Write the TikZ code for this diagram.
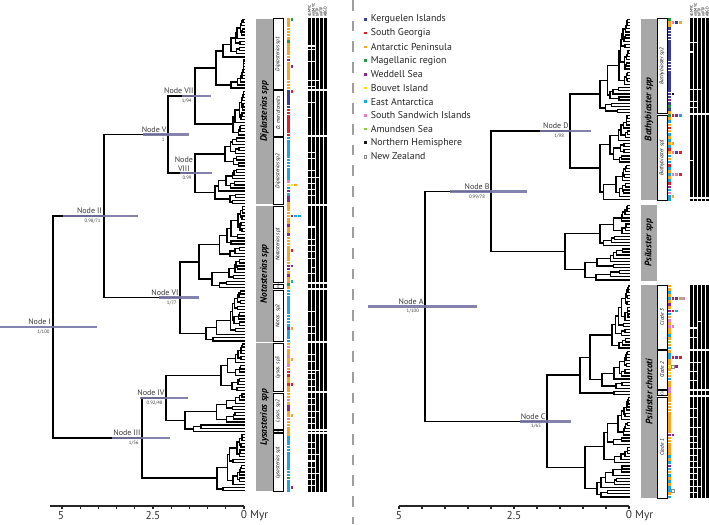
\documentclass[tikz,border=0pt]{standalone}
\usepackage{fontspec}
\setmainfont{PT Sans}
\usetikzlibrary{calc}
\definecolor{colK}{RGB}{58,60,150}
\definecolor{colR}{RGB}{226,30,40}
\definecolor{colO}{RGB}{247,165,35}
\definecolor{colG}{RGB}{40,150,70}
\definecolor{colP}{RGB}{140,40,140}
\definecolor{colY}{RGB}{250,222,40}
\definecolor{colC}{RGB}{30,165,225}
\definecolor{colS}{RGB}{230,130,185}
\definecolor{colA}{RGB}{150,200,60}
\definecolor{colN}{RGB}{20,20,20}
\definecolor{barcol}{RGB}{118,118,165}
\definecolor{boxgray}{RGB}{168,168,168}

\tikzset{
 phylo/.style={line width=1.15pt, line cap=rect, line join=miter},
 twig/.style={line width=1.0pt, line cap=rect},
 ebar/.style={line width=1.8pt, draw=barcol, opacity=0.9},
 nlab/.style={font=\fontsize{6}{6.5}\selectfont, text=black!78, inner sep=0.4pt},
 slab/.style={font=\fontsize{3.6}{4}\selectfont, text=black!75, inner sep=0.4pt},
 glab/.style={font=\fontsize{7}{8}\selectfont\bfseries\itshape, rotate=90, inner sep=0},
 sublab/.style={font=\fontsize{4}{4.5}\selectfont\itshape, rotate=90, inner sep=0},
 sbox/.style={draw=black, fill=white, line width=0.35pt},
 leg/.style={font=\fontsize{7.4}{8}\selectfont, text=black!85, anchor=west, inner sep=0},
 axisl/.style={font=\fontsize{8.5}{9}\selectfont, text=black!80, inner sep=0},
 axline/.style={line width=0.9pt, black!85},
 hdr/.style={font=\fontsize{3}{3.5}\selectfont, rotate=90, anchor=west, inner sep=0},
 sqK/.style={fill=colK}, sqR/.style={fill=colR}, sqO/.style={fill=colO},
 sqG/.style={fill=colG}, sqP/.style={fill=colP}, sqY/.style={fill=colY},
 sqC/.style={fill=colC}, sqS/.style={fill=colS}, sqA/.style={fill=colA},
 sqN/.style={fill=colN}, sqZ/.style={fill=white, draw=black!45, line width=0.25pt},
}

% recursive generator of the small ladderized subtrees
\newcommand\TRclade[3]{%
 \begingroup
 \edef\TRx{#1}\edef\TRi{#2}\edef\TRj{#3}%
 \pgfmathtruncatemacro\TRn{\TRj-\TRi+1}%
 \pgfmathsetmacro\TRr{0.55+0.4*rnd}%
 \pgfmathtruncatemacro\TRm{\TRi+max(0,min(\TRn-2,round(\TRn*\TRr)-1))}%
 \pgfmathtruncatemacro\TRmm{\TRm+1}%
 \ifnum\TRm=\TRi\relax
   \pgfmathsetmacro\TRya{\TRyz+\TRdy*\TRi}\let\TRxa\TRtip
 \else
   \pgfmathsetmacro\TRxa{\TRx+(\TRtip-\TRx)*(0.1+0.45*rnd)}%
   \TRclade{\TRxa}{\TRi}{\TRm}\let\TRya\TRret
 \fi
 \ifnum\TRmm=\TRj\relax
   \pgfmathsetmacro\TRyb{\TRyz+\TRdy*\TRj}\let\TRxb\TRtip
 \else
   \pgfmathsetmacro\TRxb{\TRx+(\TRtip-\TRx)*(0.1+0.45*rnd)}%
   \TRclade{\TRxb}{\TRmm}{\TRj}\let\TRyb\TRret
 \fi
 \draw[twig] (\TRxa,\TRya) -- (\TRx,\TRya) -- (\TRx,\TRyb) -- (\TRxb,\TRyb);
 \pgfmathsetmacro\TRyc{(\TRya+\TRyb)/2}%
 \xdef\TRret{\TRyc}%
 \endgroup}

\newcommand\EB[3]{\draw[ebar] (#1) ++(#2,0) -- ++(#3,0);}
\newcommand\GBox[5]{%
 \fill[boxgray] (#1,{\TRyz+\TRdy*(#3-0.5)+0.7}) rectangle (#2,{\TRyz+\TRdy*(#4+0.5)-0.7});
 \node[glab] at ({(#1+#2)/2},{\TRyz+\TRdy*(#3+#4)/2}) {#5};}
\newcommand\SBox[5]{%
 \draw[sbox] (#1,{\TRyz+\TRdy*(#3-0.5)+0.7}) rectangle (#2,{\TRyz+\TRdy*(#4+0.5)-0.7});
 \node[sublab] at ({(#1+#2)/2},{\TRyz+\TRdy*(#3+#4)/2}) {#5};}
\newcommand\Bars[3]{% barx, i, j
 \foreach \cc in {0,...,4}
   \fill[black] ({#1+3.9*\cc},{\TRyz+\TRdy*(#2-0.5)}) rectangle ++(3.0,{\TRdy*(#3-#2+1)});}
\newcommand\sq{2.7}

\begin{document}
\begin{tikzpicture}[x=0.75pt,y=-0.75pt]
\useasboundingbox (0,0) rectangle (709,524);
\fill[white] (0,0) rectangle (709,524);

% divider
\draw[line width=1.5pt, black!38, dash pattern=on 8pt off 7.5pt] (353,0) -- (353,524);

%================ LEFT PANEL ================
\def\TRtip{244}\def\TRyz{19.5}\def\TRdy{3.12}
\pgfmathsetseed{3}
\TRclade{216}{0}{22}\let\yA\TRret \coordinate (c1) at (216,\yA);
\TRclade{233}{23}{37}\let\yB\TRret \coordinate (c2) at (233,\yB);
\TRclade{225}{38}{47}\let\yC\TRret \coordinate (c3) at (225,\yC);
\TRclade{215}{48}{59}\let\yD\TRret \coordinate (c4) at (215,\yD);
\TRclade{199}{60}{86}\let\yE\TRret \coordinate (c5) at (199,\yE);
\TRclade{206}{87}{103}\let\yF\TRret \coordinate (c6) at (206,\yF);
\TRclade{221}{104}{119}\let\yG\TRret \coordinate (c7) at (221,\yG);
\TRclade{185}{120}{132}\let\yH\TRret \coordinate (c8) at (185,\yH);
\TRclade{217}{133}{151}\let\yI\TRret \coordinate (c9) at (217,\yI);
\pgfmathsetmacro\ySeven{(\yA+\yB)/2}
\pgfmathsetmacro\yEight{(\yC+\yD)/2}
\pgfmathsetmacro\yFive{(\ySeven+\yEight)/2}
\pgfmathsetmacro\ySix{(\yE+\yF)/2}
\pgfmathsetmacro\yTwo{(\yFive+\ySix)/2}
\pgfmathsetmacro\yFour{(\yG+\yH)/2}
\pgfmathsetmacro\yThree{(\yFour+\yI)/2}
\pgfmathsetmacro\yOne{(\yTwo+\yThree)/2}
\coordinate (n7) at (195,\ySeven);
\coordinate (n8) at (195,\yEight);
\coordinate (n5) at (168,\yFive);
\coordinate (n6) at (180,\ySix);
\coordinate (n2) at (104,\yTwo);
\coordinate (n4) at (166,\yFour);
\coordinate (n3) at (142,\yThree);
\coordinate (n1) at (53,\yOne);
\draw[phylo] (c1) -| (n7) |- (c2);
\draw[phylo] (c3) -| (n8) |- (c4);
\draw[phylo] (n7) -| (n5) |- (n8);
\draw[phylo] (c5) -| (n6) |- (c6);
\draw[phylo] (n5) -| (n2) |- (n6);
\draw[phylo] (c7) -| (n4) |- (c8);
\draw[phylo] (n4) -| (n3) |- (c9);
\draw[phylo] (n2) -| (n1) |- (n3);
\EB{n1}{-53}{97}
\EB{n2}{-41}{75}
\EB{n5}{-25}{46}
\EB{n7}{-13}{29}
\EB{n8}{-15}{32}
\EB{n6}{-21}{40}
\EB{n3}{-30}{58}
\EB{n4}{-26}{48}
\node[nlab, anchor=south east, xshift=-1pt, yshift=1pt] (l1) at (n1) {Node I};
\node[slab, anchor=north east, xshift=-2pt, yshift=-1.8pt] (s1) at (n1) {1/100};
\node[nlab, anchor=south east, xshift=-1pt, yshift=1pt] (l2) at (n2) {Node II};
\node[slab, anchor=north east, xshift=-2pt, yshift=-1.8pt] (s2) at (n2) {0.98/71};
\node[nlab, anchor=south east, xshift=-0.5pt, yshift=1pt] (l5) at (n5) {Node V};
\node[slab, anchor=north east, xshift=-2pt, yshift=-1.8pt] (s5) at (n5) {1};
\node[nlab, anchor=south east, xshift=-0.5pt, yshift=1pt] (l7) at (n7) {Node VII};
\node[slab, anchor=north east, xshift=-2pt, yshift=-1.8pt] (s7) at (n7) {1/94};
\node[nlab, anchor=south east, align=center, xshift=-1pt, yshift=1pt] (l8) at (n8) {Node\\VIII};
\node[slab, anchor=north east, xshift=-2pt, yshift=-1.8pt] (s8) at (n8) {0.99};
\node[nlab, anchor=south east, xshift=-0.5pt, yshift=1pt] (l6) at (n6) {Node VI};
\node[slab, anchor=north east, xshift=-2pt, yshift=-1.8pt] (s6) at (n6) {1/77};
\node[nlab, anchor=south east, xshift=-0.5pt, yshift=1pt] (l3) at (n3) {Node III};
\node[slab, anchor=north east, xshift=-2pt, yshift=-1.8pt] (s3) at (n3) {1/56};
\node[nlab, anchor=south east, xshift=-0.5pt, yshift=1pt] (l4) at (n4) {Node IV};
\node[slab, anchor=north east, xshift=-2pt, yshift=-1.8pt] (s4) at (n4) {0.92/48};

% axis left
\draw[axline] (50,506) -- (244,506);
\foreach \i in {0,...,10} \draw[axline] ({244-18.2*\i},506) -- ++(0,3);
\node[axisl] (ax5) at (61,516) {5};
\node[axisl] (ax25) at (153,516) {2.5};
\node[axisl, anchor=west] (ax0) at (240.6,516) {0 Myr};

% clade boxes left
\GBox{256}{273}{0}{59}{Diplasterias spp}
\GBox{256}{273}{60}{103}{Notasterias spp}
\GBox{256}{273}{104}{151}{Lysasterias spp}
\SBox{273}{283}{0}{22}{Diplasterias sp1}
\SBox{273}{283}{23}{37}{D. meridionalis}
\SBox{273}{283}{38}{59}{Diplasterias sp2}
\SBox{273}{283}{60}{84}{Notasterias sp1}
\SBox{273}{283}{85}{86}{\fontsize{2.4}{3}\selectfont spp1}
\SBox{273}{283}{87}{103}{Notos. sp2}
\SBox{273}{283}{104}{119}{Lysas. sp3}
\SBox{273}{283}{120}{131}{Lysas. sp2}
\SBox{273}{283}{132}{132}{\fontsize{1.8}{2}\selectfont spp4}
\SBox{273}{283}{133}{151}{Lysasterias sp1}

% squares left
\def\sqx{287}
\foreach \c [count=\k from 0] in {O,O,O,O,O,O,O,G,O,O,O,O,O,P,O,O,O,O,O,O,O,O,O,
 K,K,K,K,K,K,R,R,R,R,R,R,R,R,R,
 C,C,C,C,C,C,C,C,C,C,C,C,C,C,S,Y,C,P,C,P,P,O,
 O,O,O,O,O,O,P,O,O,P,O,O,O,O,O,O,O,O,O,P,P,O,P,O,O,
 G,O,
 C,C,C,C,C,C,C,C,C,C,C,C,P,C,C,C,C,
 O,S,O,O,S,O,O,S,O,R,R,O,O,R,O,O,
 O,O,S,O,P,P,O,O,S,O,O,O,
 O,
 O,C,C,C,C,C,C,C,C,C,C,C,C,C,G,C,C,C,C}
 {\if\c-\else\path[sq\c] (\sqx,{\TRyz+\TRdy*\k-\sq/2}) rectangle ++(\sq,\sq);\fi}
\foreach \k/\cs in {0/{G},15/{P},23/{R},53/{Y,O},63/{P,C,C},74/{R},79/{P},84/{C},99/{O},109/{O},117/{R},127/{O},150/{P}}
 {\foreach \c [count=\e] in \cs {\path[sq\c] ({\sqx+3.6*\e},{\TRyz+\TRdy*\k-\sq/2}) rectangle ++(\sq,\sq);}}

% bars left
\def\barx{308}
\Bars{\barx}{0}{151}
\foreach \k in {22,37,59,84,86,103,119,131,132}
 \fill[white] ({\barx-0.5},{\TRyz+\TRdy*(\k+0.5)-1}) rectangle ({\barx+19.5},{\TRyz+\TRdy*(\k+0.5)+1});
\foreach \k/\a/\b in {8/1/2,9/1/2,13/1/2,19/1/3,21/1/2,26/1/2,31/1/1,42/1/2,44/1/2,48/1/2,50/1/3,52/1/2,54/1/2,56/1/2,
 66/1/2,70/1/2,72/1/2,74/1/2,76/1/2,79/2/2,81/1/2,93/1/2,98/1/2,100/1/2,107/1/2,109/1/2,112/1/3,113/1/2,115/1/2,117/1/2,
 121/1/2,123/1/2,125/1/3,127/1/2,129/1/2,135/1/2,137/1/2,139/1/3,141/1/2,143/1/2,145/1/3,147/1/2,149/1/2}
 \fill[white] ({\barx+3.9*(\a-1)-0.3},{\TRyz+\TRdy*(\k+0.5)-0.55}) rectangle ({\barx+3.9*(\b-1)+3.3},{\TRyz+\TRdy*(\k+0.5)+0.55});
\foreach \t [count=\c from 0] in {sGMYC,mGMYC,bPTP,mPTP,ABGD}
 \node[hdr] (hl\c) at ({\barx+3.9*\c+1.5},17) {\t};

%================ RIGHT PANEL ================
\def\TRtip{629}\def\TRyz{19.5}\def\TRdy{3.1}
\pgfmathsetseed{17}
\TRclade{600}{0}{30}\let\rA\TRret \coordinate (r1) at (600,\rA);
\TRclade{600}{31}{58}\let\rB\TRret \coordinate (r2) at (600,\rB);
\TRclade{565}{60}{84}\let\rC\TRret \coordinate (r3) at (565,\rC);
\TRclade{612}{86}{106}\let\rD\TRret \coordinate (r4) at (612,\rD);
\TRclade{602}{107}{119}\let\rE\TRret \coordinate (r5) at (602,\rE);
\TRclade{614}{120}{121}\let\rF\TRret \coordinate (r6) at (614,\rF);
\TRclade{585}{122}{154}\let\rG\TRret \coordinate (r7) at (585,\rG);
\pgfmathsetmacro\yND{(\rA+\rB)/2}
\pgfmathsetmacro\yNB{(\yND+\rC)/2}
\pgfmathsetmacro\yXb{(\rD+\rE)/2}
\pgfmathsetmacro\yXa{(\yXb+\rF)/2}
\pgfmathsetmacro\yNC{(\yXa+\rG)/2}
\pgfmathsetmacro\yNA{(\yNB+\yNC)/2}
\coordinate (nD) at (570,\yND);
\coordinate (nB) at (491,\yNB);
\coordinate (x2) at (590,\yXb);
\coordinate (x1) at (580,\yXa);
\coordinate (nC) at (547,\yNC);
\coordinate (nA) at (425,\yNA);
\draw[phylo] (r1) -| (nD) |- (r2);
\draw[phylo] (nD) -| (nB) |- (r3);
\draw[phylo] (r4) -| (x2) |- (r5);
\draw[phylo] (x2) -| (x1) |- (r6);
\draw[phylo] (x1) -| (nC) |- (r7);
\draw[phylo] (nB) -| (nA) |- (nC);
\EB{nA}{-57}{109}
\EB{nB}{-41}{77}
\EB{nD}{-30}{51}
\EB{nC}{-27}{51}
\node[nlab, anchor=south east, xshift=-0.5pt, yshift=1pt] (lA) at (nA) {Node A};
\node[slab, anchor=north east, xshift=-4pt, yshift=-1.8pt] (sA) at (nA) {1/100};
\node[nlab, anchor=south east, xshift=-0.5pt, yshift=1pt] (lB) at (nB) {Node B};
\node[slab, anchor=north east, xshift=-4pt, yshift=-1.8pt] (sB) at (nB) {0.99/78};
\node[nlab, anchor=south east, xshift=-0.5pt, yshift=1pt] (lD) at (nD) {Node D};
\node[slab, anchor=north east, xshift=-4pt, yshift=-1.8pt] (sD) at (nD) {1/98};
\node[nlab, anchor=south east, xshift=-0.5pt, yshift=1pt] (lC) at (nC) {Node C};
\node[slab, anchor=north east, xshift=-4pt, yshift=-1.8pt] (sC) at (nC) {1/65};

% axis right
\draw[axline] (399,506) -- (629,506);
\foreach \i in {0,...,10} \draw[axline] ({629-23*\i},506) -- ++(0,3);
\node[axisl] (bx5) at (399,516) {5};
\node[axisl] (bx25) at (514,516) {2.5};
\node[axisl, anchor=west] (bx0) at (625.6,516) {0 Myr};

% legend
\foreach \c/\t [count=\i from 0] in {K/Kerguelen Islands, R/South Georgia, O/Antarctic Peninsula, G/Magellanic region, P/Weddell Sea, Y/Bouvet Island, C/East Antarctica, S/South Sandwich Islands, A/Amundsen Sea, N/Northern Hemisphere, Z/New Zealand}
 {\path[sq\c] (364,{19.5+13.7*\i-1.3}) rectangle ++(2.6,2.6);
  \node[leg] (leg\i) at (370.5,{19.5+13.7*\i}) {\t};}

% clade boxes right
\GBox{641}{657}{0}{58}{Bathybiaster spp}
\GBox{641}{657}{60}{84}{Psilaster spp}
\GBox{641}{657}{86}{154}{Psilaster charcoti}
\SBox{657}{667}{0}{30}{Bathybiaster sp2}
\SBox{657}{667}{31}{58}{Bathybiaster sp1}
\SBox{657}{667}{86}{106}{Clade 3}
\SBox{657}{667}{107}{119}{Clade 2}
\SBox{657}{667}{120}{121}{\fontsize{2.8}{3}\selectfont Cl.4}
\SBox{657}{667}{122}{154}{Clade 1}

% squares right
\def\sqx{668}
\foreach \c [count=\k from 0] in {G,O,O,K,K,K,K,K,K,K,K,K,K,K,K,K,K,K,K,K,K,K,K,K,K,K,P,K,G,K,O,
 G,O,C,O,R,O,C,O,C,O,C,R,O,C,O,C,R,C,O,C,O,C,R,P,C,S,C,C,
 -,-,-,-,-,-,-,-,-,-,-,-,-,-,-,-,-,-,-,-,-,-,-,-,-,-,-,
 O,O,C,O,C,O,P,O,P,C,O,S,O,S,O,O,C,O,A,O,C,
 O,C,C,O,O,Y,O,Y,O,C,O,O,S,
 S,O,
 O,O,O,O,O,O,O,O,O,O,O,O,P,O,O,O,O,O,O,C,O,C,P,C,O,C,O,C,O,C,C,O,C}
 {\if\c-\else\path[sq\c] (\sqx,{\TRyz+\TRdy*\k-\sq/2}) rectangle ++(\sq,\sq);\fi}
\foreach \k/\cs in {1/{S,K,O},24/{N},31/{R,P,C},40/{O},43/{S,P,R},50/{S,S,R},57/{O},90/{R,P,A,S},94/{R,C},99/{S},109/{R,P,R},112/{Z,P},134/{P},152/{Z}}
 {\foreach \c [count=\e] in \cs {\path[sq\c] ({\sqx+3.6*\e},{\TRyz+\TRdy*\k-\sq/2}) rectangle ++(\sq,\sq);}}

% bars right
\def\barx{690}
\Bars{\barx}{0}{58}
\Bars{\barx}{86}{154}
\foreach \k in {30,57,106,119,121}
 \fill[white] ({\barx-0.5},{\TRyz+\TRdy*(\k+0.5)-1}) rectangle ({\barx+19.5},{\TRyz+\TRdy*(\k+0.5)+1});
\foreach \k/\a/\b in {7/1/2,10/1/1,22/1/3,26/1/2,28/1/2,45/1/1,97/3/3,99/1/2,102/1/2,110/1/3,113/1/2,116/1/2,
 125/1/2,128/1/2,131/1/3,134/1/2,136/1/2,138/1/3,140/1/2,142/1/2,144/1/3,146/1/2,148/1/2,150/1/3,152/1/2}
 \fill[white] ({\barx+3.9*(\a-1)-0.3},{\TRyz+\TRdy*(\k+0.5)-0.55}) rectangle ({\barx+3.9*(\b-1)+3.3},{\TRyz+\TRdy*(\k+0.5)+0.55});
\foreach \t [count=\c from 0] in {sGMYC,mGMYC,bPTP,mPTP,ABGD}
 \node[hdr] (hr\c) at ({\barx+3.9*\c+1.5},17) {\t};
\end{tikzpicture}
\end{document}
